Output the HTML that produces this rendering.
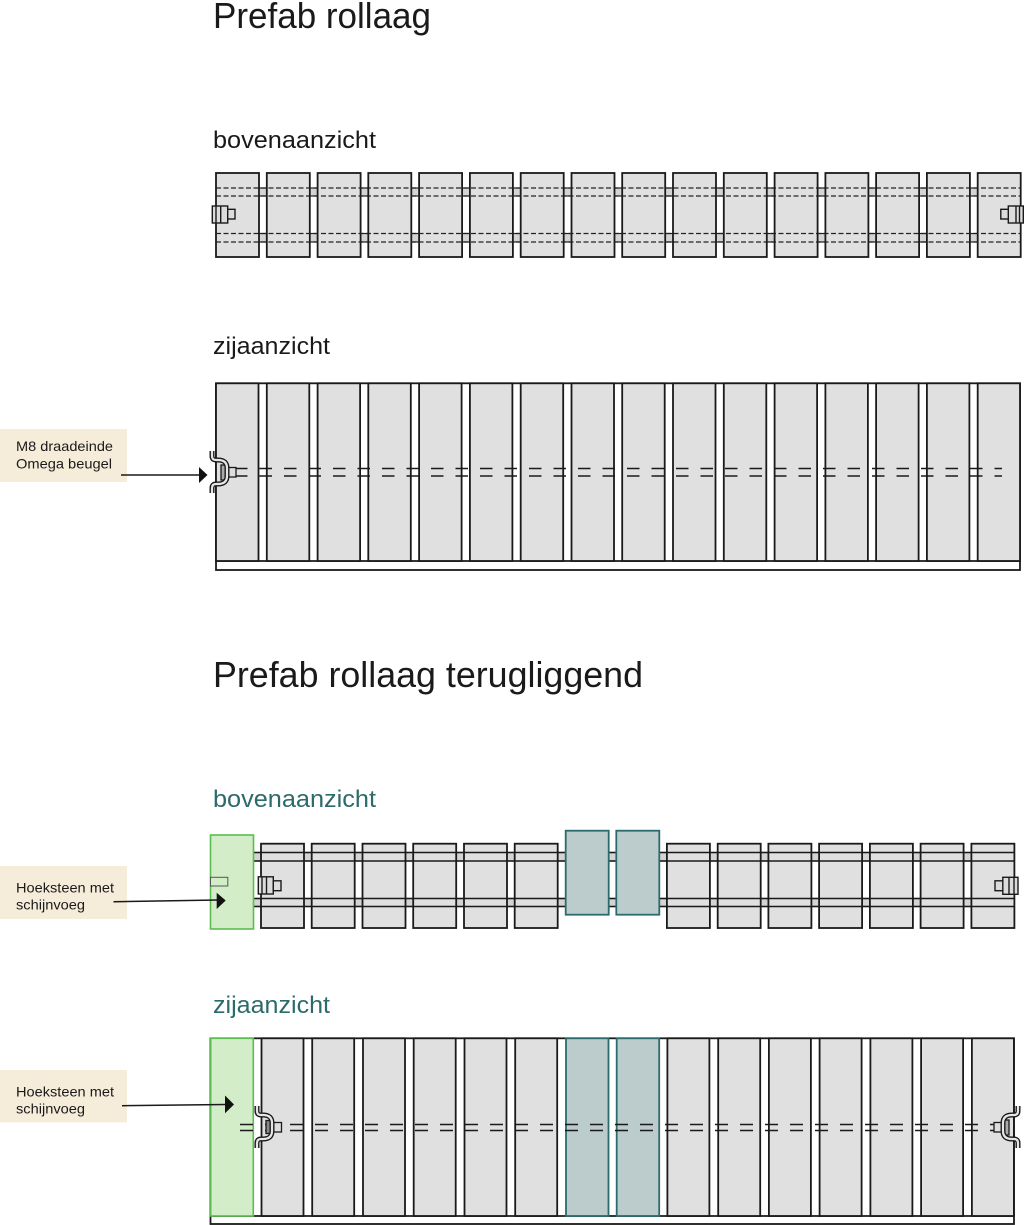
<!DOCTYPE html>
<html><head><meta charset="utf-8"><style>
html,body{margin:0;padding:0;background:#fff;}
svg{display:block;}
text{font-family:"Liberation Sans",Arial,sans-serif;}
</style></head><body>
<svg width="1024" height="1225" viewBox="0 0 1024 1225" xmlns="http://www.w3.org/2000/svg">
<defs>
  <path id="brk" d="M212,451 L212,456 Q212,460 216,460 L218,460 Q227,460 227,468 L227,476 Q227,484 218,484 L216,484 Q212,484 212,488 L212,493"/>
</defs>

<!-- Titles -->
<text x="213" y="28" font-size="36" fill="#1a1a1a" textLength="218" lengthAdjust="spacingAndGlyphs">Prefab rollaag</text>
<text x="213" y="148" font-size="24" fill="#1a1a1a" textLength="163" lengthAdjust="spacingAndGlyphs">bovenaanzicht</text>
<text x="213" y="354" font-size="24" fill="#1a1a1a" textLength="117" lengthAdjust="spacingAndGlyphs">zijaanzicht</text>
<text x="213" y="687" font-size="36" fill="#1a1a1a" textLength="430" lengthAdjust="spacingAndGlyphs">Prefab rollaag terugliggend</text>
<text x="213" y="807" font-size="24" fill="#2d6a6c" textLength="163" lengthAdjust="spacingAndGlyphs">bovenaanzicht</text>
<text x="213" y="1013" font-size="24" fill="#2d6a6c" textLength="117" lengthAdjust="spacingAndGlyphs">zijaanzicht</text>

<!-- ===== Top bovenaanzicht ===== -->
<g stroke="#222" stroke-width="1.2" fill="#d4d4d4">
  <rect x="216" y="188" width="804" height="8"/>
  <rect x="216" y="233.5" width="804" height="8.5"/>
</g>
<g fill="#e0e0e0" stroke="#1a1a1a" stroke-width="1.8">
  <rect x="216" y="173" width="43" height="84"/>
  <rect x="266.8" y="173" width="43" height="84"/>
  <rect x="317.6" y="173" width="43" height="84"/>
  <rect x="368.3" y="173" width="43" height="84"/>
  <rect x="419.1" y="173" width="43" height="84"/>
  <rect x="469.9" y="173" width="43" height="84"/>
  <rect x="520.7" y="173" width="43" height="84"/>
  <rect x="571.5" y="173" width="43" height="84"/>
  <rect x="622.2" y="173" width="43" height="84"/>
  <rect x="673" y="173" width="43" height="84"/>
  <rect x="723.8" y="173" width="43" height="84"/>
  <rect x="774.6" y="173" width="43" height="84"/>
  <rect x="825.4" y="173" width="43" height="84"/>
  <rect x="876.1" y="173" width="43" height="84"/>
  <rect x="926.9" y="173" width="43" height="84"/>
  <rect x="977.7" y="173" width="43" height="84"/>
</g>
<g stroke="#222" stroke-width="1.2" stroke-dasharray="5 2.5">
  <line x1="216" y1="188" x2="1020" y2="188"/>
  <line x1="216" y1="196" x2="1020" y2="196"/>
  <line x1="216" y1="233.5" x2="1020" y2="233.5"/>
  <line x1="216" y1="242" x2="1020" y2="242"/>
</g>
<g stroke="#1a1a1a" stroke-width="1.4" fill="#dcdcdc">
  <rect x="212.3" y="206" width="15.4" height="17"/>
  <line x1="216" y1="206" x2="216" y2="223"/>
  <line x1="220.7" y1="206" x2="220.7" y2="223"/>
  <rect x="227.7" y="209.3" width="7.3" height="9.7"/>
  <rect x="1008.3" y="206" width="15" height="17"/>
  <line x1="1016" y1="206" x2="1016" y2="223"/>
  <line x1="1019.5" y1="206" x2="1019.5" y2="223"/>
  <rect x="1000.8" y="209.3" width="7.5" height="9.7"/>
</g>

<!-- ===== Top zijaanzicht ===== -->
<rect x="216" y="383.3" width="804" height="186.7" fill="#fff" stroke="#1a1a1a" stroke-width="1.8"/>
<line x1="216" y1="561" x2="1020" y2="561" stroke="#1a1a1a" stroke-width="1.8"/>
<g fill="#e0e0e0" stroke="#1a1a1a" stroke-width="1.8">
  <rect x="216" y="383.3" width="42.5" height="177.7"/>
  <rect x="266.8" y="383.3" width="42.5" height="177.7"/>
  <rect x="317.6" y="383.3" width="42.5" height="177.7"/>
  <rect x="368.3" y="383.3" width="42.5" height="177.7"/>
  <rect x="419.1" y="383.3" width="42.5" height="177.7"/>
  <rect x="469.9" y="383.3" width="42.5" height="177.7"/>
  <rect x="520.7" y="383.3" width="42.5" height="177.7"/>
  <rect x="571.5" y="383.3" width="42.5" height="177.7"/>
  <rect x="622.2" y="383.3" width="42.5" height="177.7"/>
  <rect x="673" y="383.3" width="42.5" height="177.7"/>
  <rect x="723.8" y="383.3" width="42.5" height="177.7"/>
  <rect x="774.6" y="383.3" width="42.5" height="177.7"/>
  <rect x="825.4" y="383.3" width="42.5" height="177.7"/>
  <rect x="876.1" y="383.3" width="42.5" height="177.7"/>
  <rect x="926.9" y="383.3" width="42.5" height="177.7"/>
  <rect x="977.7" y="383.3" width="42.3" height="177.7"/>
</g>
<g stroke="#1a1a1a" stroke-width="1.4" stroke-dasharray="12.5 12">
  <line x1="235" y1="468.5" x2="1002" y2="468.5"/>
  <line x1="235" y1="476" x2="1002" y2="476"/>
</g>
<!-- left bracket -->
<g>
  <rect x="228" y="467.5" width="8" height="9.5" fill="#ddd" stroke="#1a1a1a" stroke-width="1.3"/>
  <rect x="221" y="465" width="7" height="15" fill="#aaa" stroke="#1a1a1a" stroke-width="1.3"/>
  <use href="#brk" fill="none" stroke="#1a1a1a" stroke-width="5"/>
  <use href="#brk" fill="none" stroke="#e6e6e6" stroke-width="2.2"/>
</g>
<!-- right bracket -->
<g transform="translate(2236,0) scale(-1,1)">
  <rect x="228" y="467.5" width="8" height="9.5" fill="#ddd" stroke="#1a1a1a" stroke-width="1.3"/>
  <rect x="221" y="465" width="7" height="15" fill="#aaa" stroke="#1a1a1a" stroke-width="1.3"/>
  <use href="#brk" fill="none" stroke="#1a1a1a" stroke-width="5"/>
  <use href="#brk" fill="none" stroke="#e6e6e6" stroke-width="2.2"/>
</g>

<!-- Label 1 -->
<rect x="0" y="429" width="127" height="53" fill="#f6ecda"/>
<text x="16" y="451" font-size="14" fill="#1a1a1a" textLength="97" lengthAdjust="spacingAndGlyphs">M8 draadeinde</text>
<text x="16" y="468.5" font-size="14" fill="#1a1a1a" textLength="96" lengthAdjust="spacingAndGlyphs">Omega beugel</text>
<line x1="121" y1="475" x2="200" y2="475" stroke="#1a1a1a" stroke-width="1.5"/>
<polygon points="199,467 207.5,475 199,483" fill="#111"/>

<!-- ===== Bottom bovenaanzicht ===== -->
<g stroke="#222" stroke-width="1.2" fill="#d4d4d4">
  <rect x="253" y="852.5" width="761" height="8.5"/>
  <rect x="253" y="898.5" width="761" height="8"/>
</g>
<g fill="#e0e0e0" stroke="#1a1a1a" stroke-width="1.8">
  <rect x="261" y="843.7" width="43" height="84.3"/>
  <rect x="311.7" y="843.7" width="43" height="84.3"/>
  <rect x="362.5" y="843.7" width="43" height="84.3"/>
  <rect x="413.2" y="843.7" width="43" height="84.3"/>
  <rect x="464" y="843.7" width="43" height="84.3"/>
  <rect x="514.7" y="843.7" width="43" height="84.3"/>
  <rect x="666.9" y="843.7" width="43" height="84.3"/>
  <rect x="717.7" y="843.7" width="43" height="84.3"/>
  <rect x="768.4" y="843.7" width="43" height="84.3"/>
  <rect x="819.1" y="843.7" width="43" height="84.3"/>
  <rect x="869.9" y="843.7" width="43" height="84.3"/>
  <rect x="920.6" y="843.7" width="43" height="84.3"/>
  <rect x="971.4" y="843.7" width="43" height="84.3"/>
</g>
<g stroke="#1a1a1a" stroke-width="1.5">
  <line x1="253" y1="852.5" x2="1014" y2="852.5"/>
  <line x1="253" y1="861" x2="1014" y2="861"/>
  <line x1="253" y1="898.5" x2="1014" y2="898.5"/>
  <line x1="253" y1="906.5" x2="1014" y2="906.5"/>
</g>
<g fill="#bccbcb" stroke="#2b6b6e" stroke-width="1.8">
  <rect x="565.7" y="830.7" width="43" height="84"/>
  <rect x="616.3" y="830.7" width="43" height="84"/>
</g>
<rect x="210.5" y="835" width="43" height="94" fill="#d3edc8" stroke="#5bbd4f" stroke-width="1.6"/>
<rect x="210.5" y="877.3" width="17.3" height="8.7" fill="#d3edc8" stroke="#555" stroke-width="1"/>
<g stroke="#1a1a1a" stroke-width="1.4" fill="#dcdcdc">
  <rect x="258.3" y="876.8" width="15" height="17.2"/>
  <line x1="262" y1="876.8" x2="262" y2="894"/>
  <line x1="266.5" y1="876.8" x2="266.5" y2="894"/>
  <rect x="273.3" y="880.8" width="7.7" height="9.9"/>
  <rect x="1002.8" y="877.3" width="15.2" height="17"/>
  <line x1="1009" y1="877.3" x2="1009" y2="894.3"/>
  <line x1="1014" y1="877.3" x2="1014" y2="894.3"/>
  <rect x="995" y="880.8" width="7.8" height="9.9"/>
</g>

<!-- Label 2 -->
<rect x="0" y="866" width="127" height="53" fill="#f6ecda"/>
<text x="16" y="892.5" font-size="14" fill="#1a1a1a" textLength="98" lengthAdjust="spacingAndGlyphs">Hoeksteen met</text>
<text x="16" y="909.5" font-size="14" fill="#1a1a1a" textLength="69" lengthAdjust="spacingAndGlyphs">schijnvoeg</text>
<line x1="113.5" y1="901.7" x2="218" y2="900" stroke="#1a1a1a" stroke-width="1.5"/>
<polygon points="216.7,892.7 225.7,900.5 216.7,909" fill="#111"/>

<!-- ===== Bottom zijaanzicht ===== -->
<rect x="210.5" y="1038.3" width="803.5" height="185.7" fill="#fff" stroke="#1a1a1a" stroke-width="1.8"/>
<line x1="210.5" y1="1216" x2="1014" y2="1216" stroke="#1a1a1a" stroke-width="1.8"/>
<g fill="#e0e0e0" stroke="#1a1a1a" stroke-width="1.8">
  <rect x="261.5" y="1038.3" width="42" height="177.7"/>
  <rect x="312.2" y="1038.3" width="42" height="177.7"/>
  <rect x="363" y="1038.3" width="42" height="177.7"/>
  <rect x="413.7" y="1038.3" width="42" height="177.7"/>
  <rect x="464.5" y="1038.3" width="42" height="177.7"/>
  <rect x="515.2" y="1038.3" width="42" height="177.7"/>
  <rect x="667.4" y="1038.3" width="42" height="177.7"/>
  <rect x="718.2" y="1038.3" width="42" height="177.7"/>
  <rect x="768.9" y="1038.3" width="42" height="177.7"/>
  <rect x="819.6" y="1038.3" width="42" height="177.7"/>
  <rect x="870.4" y="1038.3" width="42" height="177.7"/>
  <rect x="921.1" y="1038.3" width="42" height="177.7"/>
  <rect x="971.9" y="1038.3" width="42" height="177.7"/>
</g>
<g fill="#bccbcb" stroke="#2b6b6e" stroke-width="1.8">
  <rect x="566" y="1038.3" width="42.5" height="177.7"/>
  <rect x="616.7" y="1038.3" width="42.5" height="177.7"/>
</g>
<rect x="210.7" y="1038.3" width="42.6" height="177.7" fill="#d3edc8" stroke="#5bbd4f" stroke-width="1.6"/>
<g stroke="#1a1a1a" stroke-width="1.4" stroke-dasharray="13 12">
  <line x1="240" y1="1124.5" x2="998" y2="1124.5"/>
  <line x1="240" y1="1130.5" x2="998" y2="1130.5"/>
</g>
<!-- left bracket (bottom) -->
<g transform="translate(45,655)">
  <rect x="226" y="467.5" width="10.5" height="9.5" fill="#ddd" stroke="#1a1a1a" stroke-width="1.3"/>
  <rect x="221" y="465.5" width="5" height="13" fill="#888" stroke="#1a1a1a" stroke-width="1.3"/>
  <use href="#brk" fill="none" stroke="#1a1a1a" stroke-width="5"/>
  <use href="#brk" fill="none" stroke="#e6e6e6" stroke-width="2.2"/>
</g>
<!-- right bracket (bottom) -->
<g transform="translate(1230,655) scale(-1,1)">
  <rect x="228" y="467.5" width="8" height="9.5" fill="#ddd" stroke="#1a1a1a" stroke-width="1.3"/>
  <rect x="221" y="465" width="7" height="15" fill="#aaa" stroke="#1a1a1a" stroke-width="1.3"/>
  <use href="#brk" fill="none" stroke="#1a1a1a" stroke-width="5"/>
  <use href="#brk" fill="none" stroke="#e6e6e6" stroke-width="2.2"/>
</g>

<!-- Label 3 -->
<rect x="0" y="1070" width="127" height="52.5" fill="#f6ecda"/>
<text x="16" y="1096.5" font-size="14" fill="#1a1a1a" textLength="98" lengthAdjust="spacingAndGlyphs">Hoeksteen met</text>
<text x="16" y="1113.5" font-size="14" fill="#1a1a1a" textLength="69" lengthAdjust="spacingAndGlyphs">schijnvoeg</text>
<line x1="122" y1="1105.7" x2="226" y2="1104.5" stroke="#1a1a1a" stroke-width="1.5"/>
<polygon points="225,1095.5 234,1104.5 225,1113.3" fill="#111"/>
</svg>
</body></html>
